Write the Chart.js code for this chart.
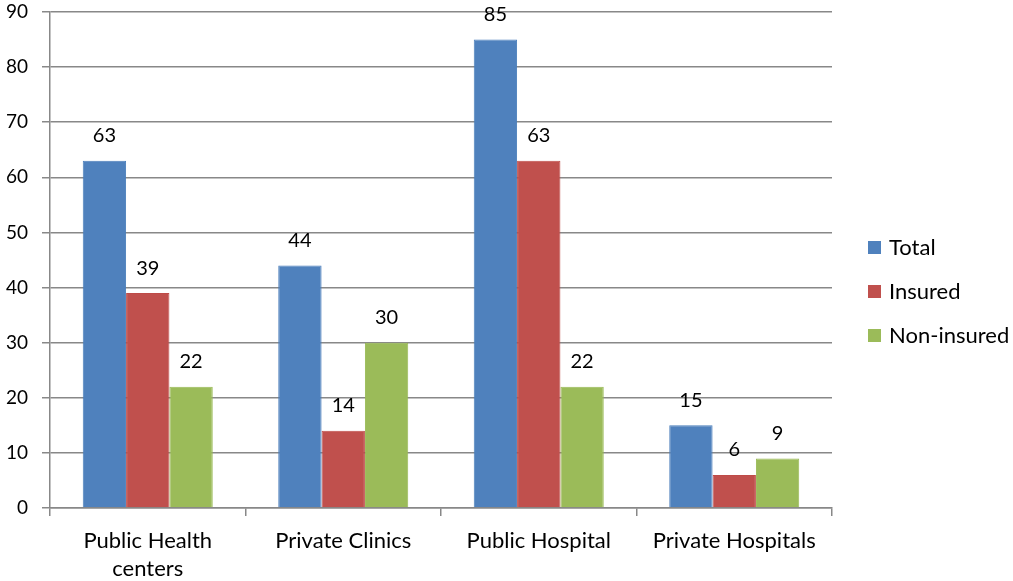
<!DOCTYPE html>
<html>
<head>
<meta charset="utf-8">
<script src="https://cdn.jsdelivr.net/npm/chart.js@4.4.0/dist/chart.umd.min.js"></script>
<style>
  html, body { margin: 0; padding: 0; background: #fff; }
  #wrap { width: 1013px; height: 581px; }
</style>
</head>
<body>
<div id="wrap"><canvas id="chart"></canvas></div>
<script>
const categories = [['Public Health', 'centers'], 'Private Clinics', 'Public Hospital', 'Private Hospitals'];
const totalValues = [63, 44, 85, 15];
const insuredValues = [39, 14, 63, 6];
const nonInsuredValues = [22, 30, 22, 9];
const yTicks = [0, 10, 20, 30, 40, 50, 60, 70, 80, 90];

const FONT = 'Lato, "Liberation Sans", sans-serif';

// numbers over each bar
const barLabels = {
  id: 'barLabels',
  afterDatasetsDraw(chart) {
    const ctx = chart.ctx;
    ctx.save();
    ctx.font = '20px ' + FONT;
    ctx.fillStyle = '#000';
    ctx.textAlign = 'center';
    ctx.textBaseline = 'middle';
    chart.data.datasets.forEach((ds, i) => {
      chart.getDatasetMeta(i).data.forEach((bar, j) => {
        ctx.fillText(ds.data[j], bar.x, bar.y - 25);
      });
    });
    ctx.restore();
  }
};

// legend on the right, vertically centred, like the office chart
const sideLegend = {
  id: 'sideLegend',
  afterDraw(chart) {
    const ctx = chart.ctx;
    const sets = chart.data.datasets;
    const step = 44;
    const x = chart.chartArea.right + 36;
    let y = chart.height / 2 + 1 - step * (sets.length - 1) / 2;
    ctx.save();
    ctx.font = '22px ' + FONT;
    ctx.textBaseline = 'middle';
    ctx.textAlign = 'left';
    sets.forEach(ds => {
      ctx.fillStyle = ds.backgroundColor;
      ctx.fillRect(x, y - 6.5, 13, 13);
      ctx.fillStyle = '#000';
      ctx.fillText(ds.label, x + 21, y);
      y += step;
    });
    ctx.restore();
  }
};

const ctx = document.getElementById('chart').getContext('2d');
new Chart(ctx, {
  type: 'bar',
  data: {
    labels: categories,
    datasets: [
      { label: 'Total', data: totalValues, backgroundColor: '#4F81BD', borderColor: '#4A7EBB', borderWidth: 1 },
      { label: 'Insured', data: insuredValues, backgroundColor: '#C0504D', borderColor: '#BE4B48', borderWidth: 1 },
      { label: 'Non-insured', data: nonInsuredValues, backgroundColor: '#9BBB59', borderColor: '#98B954', borderWidth: 1 }
    ]
  },
  options: {
    responsive: true,
    maintainAspectRatio: false,
    animation: false,
    layout: { padding: { top: 0, right: 181, left: 0, bottom: 0 } },
    datasets: { bar: { categoryPercentage: 0.665, barPercentage: 1.0 } },
    plugins: {
      legend: { display: false },
      tooltip: { enabled: false }
    },
    scales: {
      x: {
        afterFit(axis) { axis.height = 73; },
        grid: { display: true, drawOnChartArea: false, drawTicks: true, tickLength: 8, color: '#888', lineWidth: 1.5 },
        border: { color: '#888', width: 1.5 },
        ticks: { font: { family: FONT, size: 22, lineHeight: 1.28 }, color: '#000', padding: 11, maxRotation: 0, autoSkip: false }
      },
      y: {
        min: 0,
        max: 90,
        afterBuildTicks(axis) { axis.ticks = yTicks.map(v => ({ value: v })); },
        afterFit(axis) {
          axis.width = 50;
          axis.paddingTop = 12;
          axis.paddingBottom = 0;
        },
        grid: { color: '#888', lineWidth: 1.5, tickLength: 8 },
        border: { color: '#888', width: 1.5 },
        ticks: { font: { family: FONT, size: 19 }, color: '#000', padding: 14 }
      }
    }
  },
  plugins: [barLabels, sideLegend]
});
</script>
</body>
</html>
